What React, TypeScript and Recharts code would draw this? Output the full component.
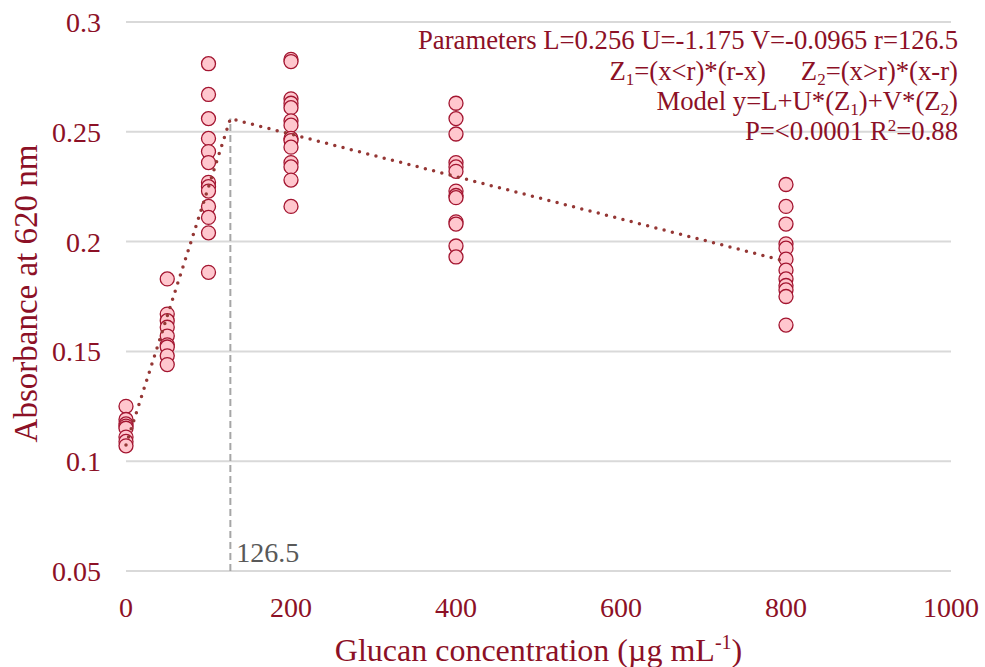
import React from "react";
import {
  ScatterChart,
  Scatter,
  XAxis,
  YAxis,
  CartesianGrid,
  ReferenceLine,
  Label,
} from "recharts";

// Glucan concentrations (µg/mL) and replicate absorbance readings at 620 nm
const concentrations = [0, 50, 100, 200, 400, 800];
const abs0 = [0.125, 0.119, 0.117, 0.116, 0.115, 0.111, 0.109, 0.107];
const abs50 = [0.183, 0.167, 0.164, 0.161, 0.157, 0.153, 0.152, 0.148, 0.144];
const abs100 = [0.281, 0.267, 0.256, 0.247, 0.241, 0.236, 0.227, 0.225, 0.223, 0.216, 0.211, 0.204, 0.186];
const abs200 = [0.283, 0.282, 0.265, 0.263, 0.261, 0.255, 0.253, 0.247, 0.246, 0.243, 0.236, 0.234, 0.228, 0.216];
const abs400 = [0.263, 0.256, 0.249, 0.236, 0.234, 0.232, 0.223, 0.221, 0.22, 0.209, 0.208, 0.198, 0.193];
const abs800 = [0.226, 0.216, 0.208, 0.199, 0.197, 0.192, 0.187, 0.183, 0.18, 0.178, 0.175, 0.162];
const replicates = [abs0, abs50, abs100, abs200, abs400, abs800];

// Broken-stick model parameters (U and V per 1000 µg/mL)
const L = 0.256;
const U = -1.175;
const V = -0.0965;
const r = 126.5;
const fitX = [0, r, 800];

const xTicks = [0, 200, 400, 600, 800, 1000];
const yTicks = [0.05, 0.1, 0.15, 0.2, 0.25, 0.3];

const points = concentrations.flatMap((c, i) =>
  replicates[i].map((y) => ({ x: c, y }))
);

const model = (x: number) =>
  L + (U / 1000) * (x < r ? r - x : 0) + (V / 1000) * (x > r ? x - r : 0);

const fitLine = fitX.map((x) => ({ x, y: model(x) }));

const FONT = "'Liberation Serif', 'Times New Roman', serif";
const TEXT = "#8C1026";

const Dot = (props: any) => {
  const { cx, cy } = props;
  if (cx == null || cy == null) return <g />;
  return (
    <circle cx={cx} cy={cy} r={7} fill="#FFC7CE" stroke="#A31530" strokeWidth={1.3} />
  );
};

const NoDot = () => <g />;

const XTitle = (props: any) => {
  const vb = props.viewBox || {};
  return (
    <text
      x={vb.x + vb.width / 2}
      y={vb.y + 90}
      textAnchor="middle"
      fill={TEXT}
      fontSize={32}
      fontFamily={FONT}
    >
      Glucan concentration (µg mL
      <tspan fontSize={20} dy={-12}>-1</tspan>
      <tspan dy={12}>)</tspan>
    </text>
  );
};

const YTitle = (props: any) => {
  const vb = props.viewBox || {};
  const cx = 37;
  const cy = vb.y + vb.height / 2 - 3;
  return (
    <text
      x={cx}
      y={cy}
      transform={`rotate(-90 ${cx} ${cy})`}
      textAnchor="middle"
      fill={TEXT}
      fontSize={33}
      fontFamily={FONT}
    >
      Absorbance at 620 nm
    </text>
  );
};

const BreakLabel = (props: any) => {
  const vb = props.viewBox || {};
  return (
    <text
      x={vb.x + 6}
      y={vb.y + vb.height - 9}
      fill="#595959"
      fontSize={28}
      fontFamily={FONT}
    >
      {String(r)}
    </text>
  );
};

const Annotation = () => {
  const right = 958;
  const common = { fill: TEXT, fontSize: 26.7, fontFamily: FONT, textAnchor: "end" as const };
  return (
    <g>
      <text x={right} y={49} {...common}>
        {`Parameters L=${L} U=${U} V=${V} r=${r}`}
      </text>
      <text x={766} y={80} {...common}>
        Z<tspan fontSize={17} dy={5}>1</tspan>
        <tspan dy={-5}>=(x&lt;r)*(r-x)</tspan>
      </text>
      <text x={right} y={80} {...common}>
        Z<tspan fontSize={17} dy={5}>2</tspan>
        <tspan dy={-5}>=(x&gt;r)*(x-r)</tspan>
      </text>
      <text x={right} y={110} {...common}>
        Model y=L+U*(Z<tspan fontSize={17} dy={5}>1</tspan>
        <tspan dy={-5}>)+V*(Z</tspan>
        <tspan fontSize={17} dy={5}>2</tspan>
        <tspan dy={-5}>)</tspan>
      </text>
      <text x={right} y={140} {...common}>
        P=&lt;0.0001 R<tspan fontSize={17} dy={-9}>2</tspan>
        <tspan dy={9}>=0.88</tspan>
      </text>
    </g>
  );
};

export default function App() {
  return (
    <div style={{ position: "absolute", left: 0, top: 0, width: 985, height: 667, background: "#fff" }}>
      <ScatterChart
        width={985}
        height={667}
        margin={{ top: 22, right: 34, bottom: 0, left: 0 }}
      >
        <CartesianGrid vertical={false} stroke="#D9D9D9" strokeWidth={2} />
        <XAxis
          type="number"
          dataKey="x"
          domain={[0, 1000]}
          ticks={xTicks}
          height={96}
          axisLine={false}
          tickLine={false}
          tickSize={0}
          tickMargin={26}
          tick={{ fill: TEXT, fontSize: 28, fontFamily: FONT }}
        >
          <Label content={<XTitle />} />
        </XAxis>
        <YAxis
          type="number"
          dataKey="y"
          domain={[0.05, 0.3]}
          ticks={yTicks}
          width={126}
          axisLine={false}
          tickLine={false}
          tickSize={0}
          tickMargin={25}
          tick={{ fill: TEXT, fontSize: 28, fontFamily: FONT }}
        >
          <Label content={<YTitle />} />
        </YAxis>
        <ReferenceLine
          segment={[
            { x: r, y: 0.05 },
            { x: r, y: L },
          ]}
          stroke="#A6A6A6"
          strokeWidth={2}
          strokeDasharray="7 4"
          label={<BreakLabel />}
        />
        <Scatter data={points} shape={<Dot />} isAnimationActive={false} />
        <Scatter
          data={fitLine}
          shape={<NoDot />}
          line={{
            stroke: "#953735",
            strokeWidth: 3.5,
            strokeDasharray: "0 8.5",
            strokeLinecap: "round",
          }}
          isAnimationActive={false}
        />
        <Annotation />
      </ScatterChart>
    </div>
  );
}
